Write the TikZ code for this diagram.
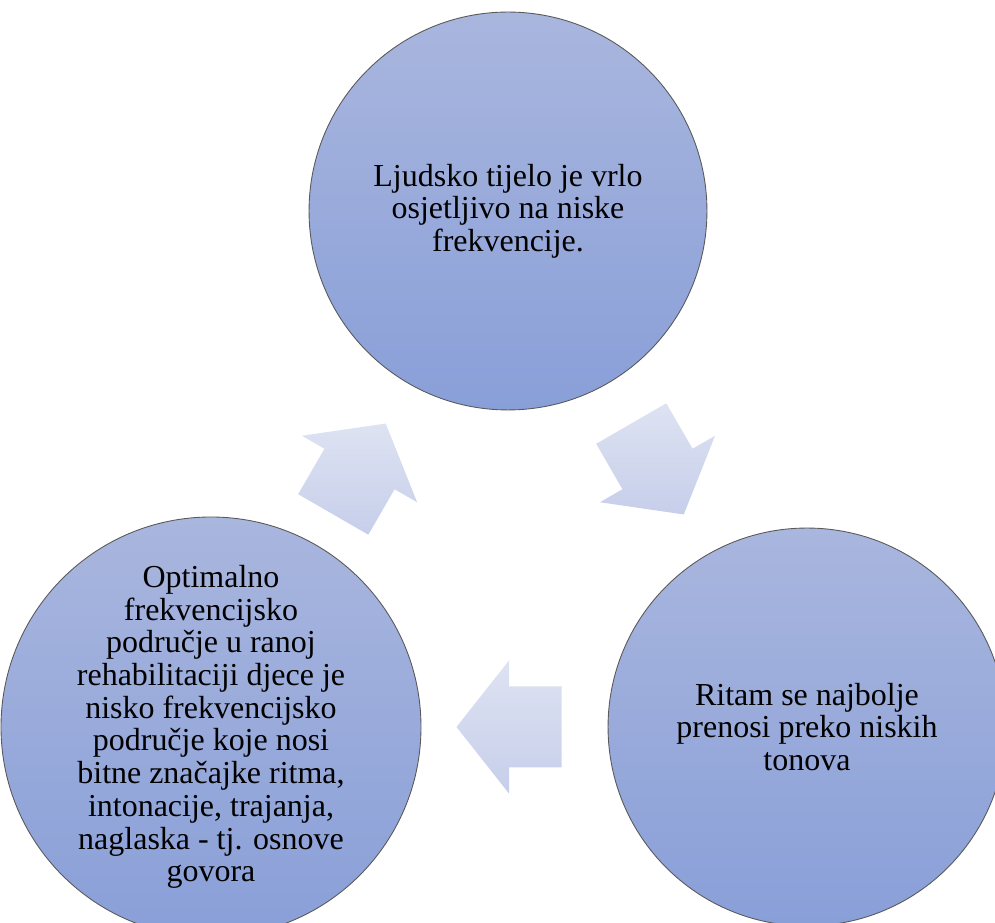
\documentclass[tikz,border=0pt]{standalone}
\usepackage{fontspec}
\setmainfont{Liberation Serif}
\usetikzlibrary{calc}
\definecolor{circtop}{RGB}{169,182,222}
\definecolor{circbot}{RGB}{137,159,216}
\definecolor{arrtop}{RGB}{222,227,242}
\definecolor{arrbot}{RGB}{198,206,234}
\tikzset{
    bubble/.style={circle, draw=black!65, line width=0.5pt,
        top color=circtop, bottom color=circbot,
        minimum size=7.96cm, inner sep=0pt, align=center,
        font=\fontsize{18.2}{18.6}\selectfont},
    flowarrow/.style={top color=arrtop, bottom color=arrbot, draw=none},
}
\newcommand{\flow}[3]{%
    \begin{scope}[shift={($(#1)!0.5!(#2)$)}, rotate=#3]
        \path[flowarrow] (-52.5,40.5) -- (0,40.5) -- (0,66.5) -- (52.5,0)
            -- (0,-66.5) -- (0,-40.5) -- (-52.5,-40.5) -- cycle;
    \end{scope}}

\begin{document}
\begin{tikzpicture}[x=0.02cm, y=0.02cm]
    \useasboundingbox (0,0) rectangle (995,923);
    \clip (0,0) rectangle (995,923);
    \node[bubble] (a) at (508,712) {Ljudsko tijelo je vrlo\\osjetljivo na niske\\frekvencije.};
    \node[bubble] (b) at (807,196) {Ritam se najbolje\\prenosi preko niskih\\tonova};
    \node[bubble] (c) at (211,196) {Optimalno\\frekvencijsko\\područje u ranoj\\rehabilitaciji djece je\\nisko frekvencijsko\\područje koje nosi\\bitne značajke ritma,\\intonacije, trajanja,\\naglaska - tj. osnove\\govora};
    \flow{a}{b}{-60}
    \flow{b}{c}{180}
    \flow{c}{a}{60}
\end{tikzpicture}
\end{document}
